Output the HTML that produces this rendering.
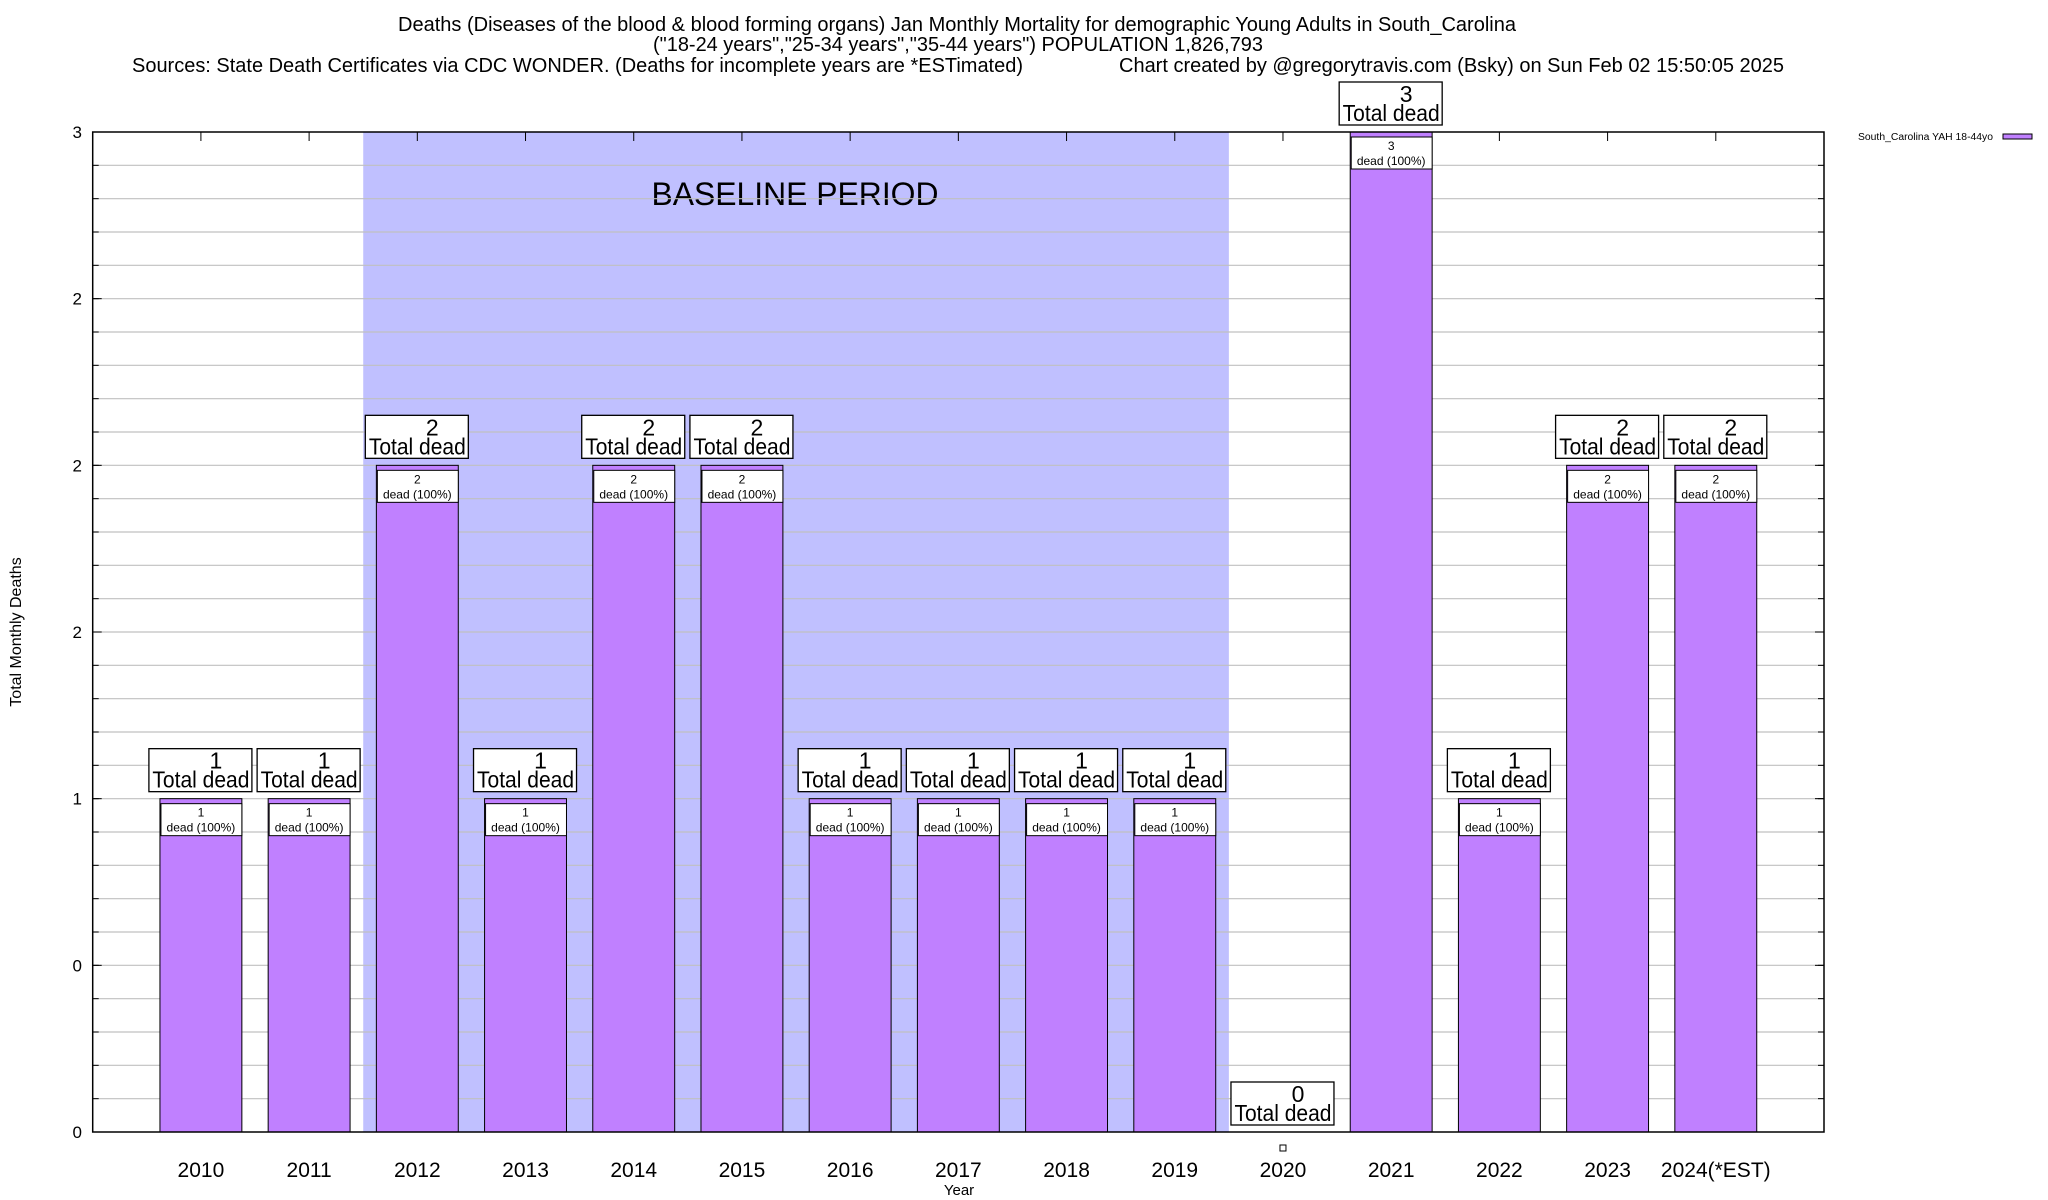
<!DOCTYPE html>
<html><head><meta charset="utf-8"><style>
html,body{margin:0;padding:0;background:#fff;}
svg{display:block;font-family:"Liberation Sans",sans-serif;}
</style></head><body>
<svg id="chart" width="2048" height="1200" viewBox="0 0 2048 1200" xmlns="http://www.w3.org/2000/svg">
<g font-size="20" fill="#000">
<text x="957" y="31" text-anchor="middle" textLength="1118" lengthAdjust="spacingAndGlyphs">Deaths (Diseases of the blood &amp; blood forming organs) Jan Monthly Mortality for demographic Young Adults in South_Carolina</text>
<text x="958" y="51" text-anchor="middle" textLength="610" lengthAdjust="spacingAndGlyphs">("18-24 years","25-34 years","35-44 years") POPULATION 1,826,793</text>
<text x="132" y="72" textLength="891" lengthAdjust="spacingAndGlyphs">Sources: State Death Certificates via CDC WONDER. (Deaths for incomplete years are *ESTimated)</text>
<text x="1119" y="72" textLength="665" lengthAdjust="spacingAndGlyphs">Chart created by @gregorytravis.com (Bsky) on Sun Feb 02 15:50:05 2025</text>
</g>
<g id="plot"></g>
</svg>
<script>
const categories = ["2010","2011","2012","2013","2014","2015","2016","2017","2018","2019","2020","2021","2022","2023","2024(*EST)"];
const deaths = [1,1,2,1,2,2,1,1,1,1,0,3,1,2,2];
const yTickValues = [0,0.5,1,1.5,2,2.5,3];
const yTickLabels = ["0","0","1","2","2","2","3"];
const baselineRange = [2012, 2019];
const yMax = 3;

const NS = "http://www.w3.org/2000/svg";
const L = 92.7, R = 1824, T = 132, B = 1132;
const slot = (R - L) / (categories.length + 1);
function xScale(i){ return L + (i + 1) * slot; }
function yScale(v){ return B - (v / yMax) * (B - T); }
const g = document.getElementById('plot');
function mk(tag, attrs, parent){
  const e = document.createElementNS(NS, tag);
  for (const k in attrs) e.setAttribute(k, attrs[k]);
  (parent || g).appendChild(e);
  return e;
}
const bi0 = categories.indexOf(String(baselineRange[0])), bi1 = categories.indexOf(String(baselineRange[1]));
const shade = mk('rect', {x: xScale(bi0) - slot/2, y: T, width: (bi1 - bi0 + 1) * slot, height: B - T, fill: '#c0c0ff'});


const bt = mk('text', {x: 795, y: 205, 'font-size': 32, 'text-anchor': 'middle', textLength: 287, lengthAdjust: 'spacingAndGlyphs'});
bt.textContent = 'BASELINE PERIOD';


for (let k = 1; k < yMax * 10; k++) {
  const y = yScale(k / 10);
  const gl = mk('line', {x1: L, x2: R, y1: y, y2: y, stroke: '#c0c0c0', 'stroke-width': 1.2});
  
  
  mk('line', {x1: L, x2: L + 6, y1: y, y2: y, stroke: '#000'});
  mk('line', {x1: R - 6, x2: R, y1: y, y2: y, stroke: '#000'});
}
yTickValues.forEach((v, i) => {
  const y = yScale(v);
  mk('line', {x1: L, x2: L + 9, y1: y, y2: y, stroke: '#000'});
  mk('line', {x1: R - 9, x2: R, y1: y, y2: y, stroke: '#000'});
  const t = mk('text', {x: 82, y: y + 6, 'font-size': 17, 'text-anchor': 'end'});
  t.textContent = yTickLabels[i];
  
  
});
const bw = slot * 0.757;
categories.forEach((c, i) => {
  const cx = xScale(i), v = deaths[i];
  mk('line', {x1: cx, x2: cx, y1: T, y2: T + 9, stroke: '#000'});
  if (v > 0) {
    const bar = mk('rect', {x: cx - bw/2, y: yScale(v), width: bw, height: B - yScale(v), fill: '#c080ff', stroke: '#000', 'stroke-width': 1});
    
    
    const ib = mk('rect', {x: cx - bw/2 + 1, y: yScale(v) + 5, width: bw - 1, height: 32, fill: '#fff', stroke: '#000', 'stroke-width': 1});
    
    
    const t1 = mk('text', {x: cx, y: yScale(v) + 18, 'font-size': 12, 'text-anchor': 'middle'});
    t1.textContent = String(v);
    const t2 = mk('text', {x: cx, y: yScale(v) + 33, 'font-size': 12, 'text-anchor': 'middle'});
    t2.textContent = 'dead (100%)';
  } else {
    const sq = mk('rect', {x: cx - 3, y: yScale(0) + 13, width: 6, height: 6, fill: '#fff', stroke: '#000'});
    
    
  }
  const top = yScale(v);
  const box = mk('rect', {x: cx - 52, y: top - 50, width: 103, height: 43, fill: '#fff', stroke: '#000', 'stroke-width': 1.3});
  
  
  const n = mk('text', {x: cx + 15, y: top - 30, 'font-size': 23, 'text-anchor': 'middle'});
  n.textContent = String(v);
  const td = mk('text', {x: cx, y: top - 11, 'font-size': 23, 'text-anchor': 'middle', textLength: 97, lengthAdjust: 'spacingAndGlyphs'});
  td.textContent = 'Total dead';
  const xl = mk('text', {x: cx, y: 1177, 'font-size': 21, 'text-anchor': 'middle'});
  xl.textContent = c;
  
  
});
const fr = mk('rect', {x: L, y: T, width: R - L, height: B - T, fill: 'none', stroke: '#000', 'stroke-width': 1.5});


const yt = mk('text', {x: 0, y: 0, 'font-size': 16, 'text-anchor': 'middle', transform: 'translate(21,632) rotate(-90)'});
yt.textContent = 'Total Monthly Deaths';


const xt = mk('text', {x: 959, y: 1195, 'font-size': 15, 'text-anchor': 'middle'});
xt.textContent = 'Year';


const lt = mk('text', {x: 1858, y: 140, 'font-size': 10, textLength: 135, lengthAdjust: 'spacingAndGlyphs'});
lt.textContent = 'South_Carolina YAH 18-44yo';


const ls = mk('rect', {x: 2003, y: 134, width: 29, height: 5, fill: '#c080ff', stroke: '#000', 'stroke-width': 1});


</script>
</body></html>
